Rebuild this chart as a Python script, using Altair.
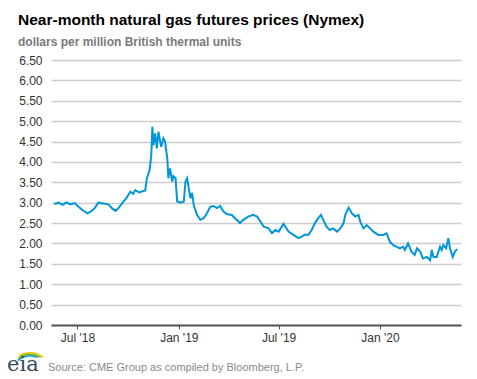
import altair as alt
import pandas as pd

dates = [
    "2018-05-20", "2018-05-28", "2018-06-04", "2018-06-11", "2018-06-18", "2018-06-26",
    "2018-07-03", "2018-07-10", "2018-07-19", "2018-07-25", "2018-08-01", "2018-08-08",
    "2018-08-17", "2018-08-26", "2018-09-02", "2018-09-08", "2018-09-13", "2018-09-21",
    "2018-09-28", "2018-10-05", "2018-10-10", "2018-10-14", "2018-10-21", "2018-10-27",
    "2018-11-01", "2018-11-04", "2018-11-09", "2018-11-12", "2018-11-14", "2018-11-16",
    "2018-11-19", "2018-11-22", "2018-11-25", "2018-11-30", "2018-12-04", "2018-12-07",
    "2018-12-11", "2018-12-13", "2018-12-16", "2018-12-20", "2018-12-22", "2018-12-26",
    "2018-12-29", "2019-01-04", "2019-01-10", "2019-01-13", "2019-01-16", "2019-01-19",
    "2019-01-22", "2019-01-25", "2019-01-28", "2019-02-03", "2019-02-09", "2019-02-15",
    "2019-02-21", "2019-02-27", "2019-03-05", "2019-03-11", "2019-03-17", "2019-03-23",
    "2019-03-29", "2019-04-07", "2019-04-13", "2019-04-22", "2019-04-28", "2019-05-07",
    "2019-05-16", "2019-05-23", "2019-05-29", "2019-06-04", "2019-06-13", "2019-06-19",
    "2019-06-25", "2019-07-01", "2019-07-10", "2019-07-19", "2019-07-28", "2019-08-06",
    "2019-08-12", "2019-08-18", "2019-08-24", "2019-08-30", "2019-09-05", "2019-09-11",
    "2019-09-16", "2019-09-20", "2019-09-26", "2019-10-02", "2019-10-08", "2019-10-15",
    "2019-10-21", "2019-10-27", "2019-10-30", "2019-11-05", "2019-11-11", "2019-11-17",
    "2019-11-23", "2019-11-26", "2019-12-02", "2019-12-08", "2019-12-14", "2019-12-20",
    "2019-12-29", "2020-01-07", "2020-01-13", "2020-01-19", "2020-01-25", "2020-01-31",
    "2020-02-06", "2020-02-12", "2020-02-15", "2020-02-21", "2020-02-27", "2020-03-04",
    "2020-03-08", "2020-03-14", "2020-03-19", "2020-03-26", "2020-04-01", "2020-04-04",
    "2020-04-07", "2020-04-13", "2020-04-16", "2020-04-19", "2020-04-22", "2020-04-25",
    "2020-04-30", "2020-05-04", "2020-05-07", "2020-05-12", "2020-05-16", "2020-05-20",
]

prices = [
    2.97, 3.00, 2.95, 3.01, 2.96, 2.99,
    2.90, 2.82, 2.74, 2.78, 2.86, 3.00,
    2.98, 2.96, 2.86, 2.80, 2.86, 3.00,
    3.12, 3.27, 3.22, 3.31, 3.25, 3.28,
    3.30, 3.60, 3.80, 4.17, 4.86, 4.41,
    4.70, 4.33, 4.74, 4.37, 4.58, 4.50,
    4.09, 3.60, 3.84, 3.52, 3.65, 3.60,
    3.03, 3.00, 3.03, 3.52, 3.60, 3.35,
    3.11, 3.24, 2.94, 2.70, 2.58, 2.62,
    2.74, 2.90, 2.92, 2.87, 2.92, 2.78,
    2.72, 2.70, 2.62, 2.50, 2.58, 2.66,
    2.70, 2.66, 2.54, 2.41, 2.37, 2.25,
    2.33, 2.29, 2.48, 2.29, 2.21, 2.13,
    2.17, 2.22, 2.21, 2.33, 2.50, 2.62,
    2.70, 2.58, 2.41, 2.33, 2.37, 2.29,
    2.37, 2.50, 2.70, 2.88, 2.74, 2.66,
    2.70, 2.54, 2.37, 2.45, 2.37, 2.29,
    2.21, 2.21, 2.25, 2.04, 1.96, 1.92,
    1.88, 1.92, 1.84, 2.00, 1.80, 1.72,
    1.88, 1.80, 1.63, 1.67, 1.59, 1.84,
    1.67, 1.67, 1.80, 1.92, 1.84, 1.96,
    1.88, 2.13, 1.88, 1.67, 1.80, 1.86,
]

y_ticks = [0.0, 0.5, 1.0, 1.5, 2.0, 2.5, 3.0, 3.5, 4.0, 4.5, 5.0, 5.5, 6.0, 6.5]

title_text = "Near-month natural gas futures prices (Nymex)"
subtitle_text = "dollars per million British thermal units"
source_text = "Source: CME Group as compiled by Bloomberg, L.P."

df = pd.DataFrame({"date": dates, "price": prices})

FONT = "Liberation Sans"

x_enc = alt.X(
    "date:T",
    title=None,
    scale=alt.Scale(
        type="utc",
        domain=[
            alt.DateTime(year=2018, month=5, date=14, utc=True),
            alt.DateTime(year=2020, month=5, date=27, utc=True),
        ],
    ),
    axis=alt.Axis(
        values=[
            alt.DateTime(year=2018, month=7, date=1, utc=True),
            alt.DateTime(year=2019, month=1, date=1, utc=True),
            alt.DateTime(year=2019, month=7, date=1, utc=True),
            alt.DateTime(year=2020, month=1, date=1, utc=True),
        ],
        labelExpr="utcFormat(datum.value, \"%b '%y\")",
        grid=False,
        domain=True,
        domainColor="#555555",
        domainWidth=2,
        ticks=True,
        tickSize=4,
        tickColor="#555555",
        tickWidth=1,
        labelFont=FONT,
        labelFontSize=12,
        labelColor="#333333",
        labelPadding=3,
    ),
)

y_enc = alt.Y(
    "price:Q",
    title=None,
    scale=alt.Scale(domain=[0, 6.5], nice=False, zero=True),
    axis=alt.Axis(
        values=y_ticks,
        format=".2f",
        grid=True,
        gridColor="#cccccc",
        gridWidth=1.5,
        domain=False,
        ticks=False,
        labelFont=FONT,
        labelFontSize=12,
        labelColor="#333333",
        labelPadding=9,
    ),
)

line = alt.Chart(df).mark_line(color="#0096d7", strokeWidth=2).encode(x=x_enc, y=y_enc)

def txt(text, x, y, size, color, weight="normal", font=FONT, align="left"):
    return alt.Chart(pd.DataFrame({"t": [text]})).mark_text(
        align=align, baseline="alphabetic", fontSize=size, font=font,
        fontWeight=weight, color=color,
    ).encode(text="t:N", x=alt.value(x), y=alt.value(y))

def arc(r1, r2, t1, t2, color):
    return alt.Chart(pd.DataFrame({"a": [0]})).mark_arc(
        radius=r1, radius2=r2, theta=t1, theta2=t2, color=color
    ).encode(x=alt.value(-21), y=alt.value(314))

title = txt(title_text, -33, -35, 15.5, "#000000", "bold")
subtitle = txt(subtitle_text, -33, -14, 12, "#7a7a7a", "bold")
source = txt(source_text, -3, 311, 11, "#8a8a8a")
logo = txt("eia", -44, 311, 21, "#3a4a5a", font="DejaVu Serif")
arc1 = arc(22, 20.5, 5.75, 6.95, "#f2c400")
arc2 = arc(20.5, 19, 5.65, 6.85, "#7ab800")
arc3 = arc(19, 17.5, 5.55, 6.7, "#0096d7")

chart = alt.layer(line, title, subtitle, source, arc1, arc2, arc3, logo).properties(
    width=410,
    height=265,
    autosize=alt.AutoSizeParams(type="none"),
    padding={"left": 43, "top": 52, "right": 8, "bottom": 54},
).configure_view(stroke=None)

chart.save("out.html", embed_options={"renderer": "svg", "actions": False})
